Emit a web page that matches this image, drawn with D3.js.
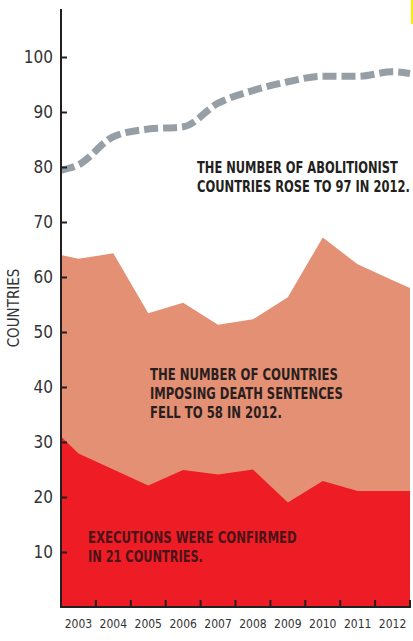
<!DOCTYPE html>
<html>
<head>
<meta charset="utf-8">
<script src="https://cdn.jsdelivr.net/npm/d3@7"></script>
<style>
  html, body { margin: 0; padding: 0; background: #fff; }
  svg { display: block; }
  .narrow { font-family: 'Liberation Sans Narrow', 'DejaVu Sans Condensed', 'Arial Narrow', sans-serif; font-stretch: condensed; }
</style>
</head>
<body>
<svg id="chart" width="413" height="641"></svg>
<script>
// year labels under the axis
const years = [2003, 2004, 2005, 2006, 2007, 2008, 2009, 2010, 2011, 2012];
// x of each data point: left edge, each year, right edge
const pointYears = [2002.5, 2003, 2004, 2005, 2006, 2007, 2008, 2009, 2010, 2011, 2012, 2012.5];
// abolitionist countries (grey dashed line)
const abolitionist = [79.4, 80.4, 85.5, 86.9, 87.3, 91.6, 93.9, 95.5, 96.5, 96.5, 97.3, 97.0];
// countries imposing death sentences (orange area)
const deathSentences = [64.0, 63.3, 64.3, 53.4, 55.3, 51.3, 52.3, 56.3, 67.2, 62.3, 59.4, 58.0];
// countries with confirmed executions (red area)
const executions = [31.0, 27.9, 25.0, 22.1, 24.9, 24.1, 25.0, 19.0, 22.9, 21.1, 21.1, 21.1];
const yTicks = [10, 20, 30, 40, 50, 60, 70, 80, 90, 100];

const margin = { top: 9, right: 3, bottom: 34, left: 61 };
const width = 413, height = 641;
const svg = d3.select('#chart');

const x = d3.scaleLinear()
  .domain([2002.5, 2012.5])
  .range([margin.left, width - margin.right]);

const xBand = d3.scaleBand()
  .domain(years)
  .range([margin.left, width - margin.right]);

const y = d3.scaleLinear()
  .domain([0, 100])
  .range([height - margin.bottom, 57]);

const toPoints = (vals) => vals.map((v, i) => ({ x: pointYears[i], v }));

const area = d3.area()
  .x((d) => x(d.x))
  .y0(y(0))
  .y1((d) => y(d.v));

svg.append('path')
  .attr('d', area(toPoints(deathSentences)))
  .attr('fill', '#e39074');

svg.append('path')
  .attr('d', area(toPoints(executions)))
  .attr('fill', '#ee1c25');

const line = d3.line()
  .x((d) => x(d.x))
  .y((d) => y(d.v))
  .curve(d3.curveMonotoneX);

svg.append('path')
  .attr('d', line(toPoints(abolitionist)))
  .attr('fill', 'none')
  .attr('stroke', '#969fa5')
  .attr('stroke-width', 7)
  .attr('stroke-dasharray', '14 5');

// y axis
const yAxis = svg.append('g')
  .attr('transform', `translate(${margin.left},0)`)
  .call(d3.axisRight(y).tickValues(yTicks).tickSize(6).tickFormat(''));
yAxis.select('.domain').remove();
yAxis.selectAll('line').attr('stroke', '#231f20').attr('stroke-width', 2);

svg.append('line')
  .attr('x1', margin.left).attr('x2', margin.left)
  .attr('y1', margin.top).attr('y2', y(0) + 1)
  .attr('stroke', '#231f20').attr('stroke-width', 2);

svg.selectAll('.ylab')
  .data(yTicks)
  .join('text')
  .attr('class', 'ylab narrow')
  .attr('x', 53)
  .attr('y', (d) => y(d) + 6)
  .attr('text-anchor', 'end')
  .attr('font-size', 17)
  .attr('fill', '#333')
  .text((d) => d);

svg.append('text')
  .attr('class', 'narrow')
  .attr('transform', 'translate(19,308) rotate(-90)')
  .attr('text-anchor', 'middle')
  .attr('font-size', 15)
  .attr('fill', '#333')
  .text('COUNTRIES');

// x axis with ticks between the years
const xAxis = svg.append('g')
  .attr('transform', `translate(0,${y(0)})`);
xAxis.selectAll('line.tick')
  .data(years.slice(1).concat(['end']))
  .join('line')
  .attr('class', 'tick')
  .attr('x1', (d, i) => i < years.length - 1 ? xBand(d) : width - margin.right)
  .attr('x2', (d, i) => i < years.length - 1 ? xBand(d) : width - margin.right)
  .attr('y1', 0).attr('y2', -7)
  .attr('stroke', '#231f20').attr('stroke-width', 2);
xAxis.append('line')
  .attr('x1', margin.left - 1).attr('x2', width - margin.right + 1)
  .attr('stroke', '#231f20').attr('stroke-width', 2);
xAxis.selectAll('text')
  .data(years)
  .join('text')
  .attr('class', 'narrow')
  .attr('x', (d) => xBand(d) + xBand.bandwidth() / 2)
  .attr('y', 21)
  .attr('text-anchor', 'middle')
  .attr('font-size', 12)
  .attr('fill', '#333')
  .text((d) => d);

// annotations, squeezed horizontally to the reference widths
const notes = [
  { lines: ['THE NUMBER OF ABOLITIONIST', 'COUNTRIES ROSE TO 97 IN 2012.'], widths: [201, 213], x: 197, y: 173, color: '#231f20' },
  { lines: ['THE NUMBER OF COUNTRIES', 'IMPOSING DEATH SENTENCES', 'FELL TO 58 IN 2012.'], widths: [188, 193, 132], x: 150, y: 380, color: '#2a1e1e' },
  { lines: ['EXECUTIONS WERE CONFIRMED', 'IN 21 COUNTRIES.'], widths: [209, 115], x: 88, y: 543, color: '#4a1418' },
];
notes.forEach((n) => {
  n.lines.forEach((t, i) => {
    const txt = svg.append('text')
      .attr('class', 'narrow')
      .attr('font-size', 15)
      .attr('font-weight', 'bold')
      .attr('fill', n.color)
      .text(t);
    const len = txt.node().getComputedTextLength();
    const k = n.widths[i] / len;
    txt.attr('transform', `translate(${n.x},${n.y + i * 19}) scale(${k},1)`);
  });
});

// yellow edge at top right
svg.append('line')
  .attr('x1', 412).attr('x2', 412).attr('y1', 0).attr('y2', 24)
  .attr('stroke', '#ffef00').attr('stroke-width', 2);
</script>
</body>
</html>
